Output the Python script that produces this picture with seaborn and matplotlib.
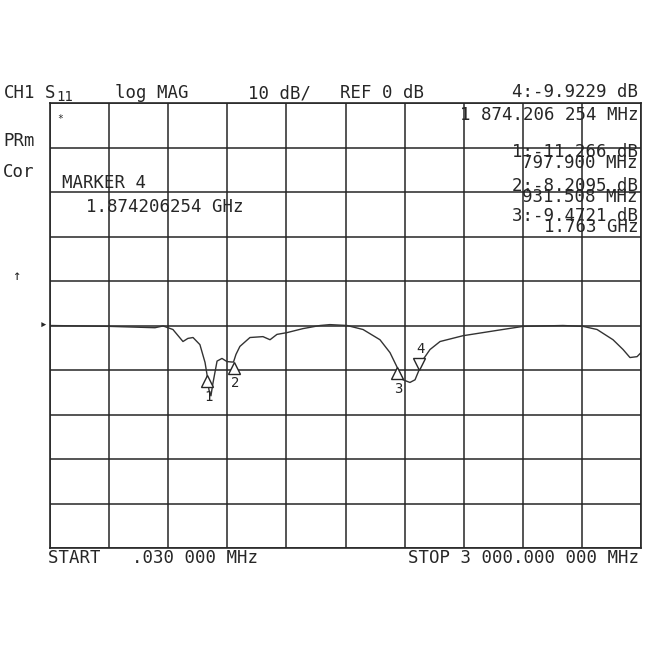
import matplotlib
matplotlib.use("Agg")
import matplotlib.pyplot as plt
import matplotlib.transforms as mtransforms
import seaborn as sns
import pandas as pd

# S11 trace (MHz, dB)
freq_mhz = [0.03, 305, 457, 533, 574, 624, 675, 700, 726, 761, 787, 797.9, 807,
            817, 827, 848, 873, 898, 921, 931.5, 944, 964, 1015, 1081, 1117,
            1152, 1203, 1284, 1371, 1421, 1508, 1589, 1675, 1726, 1763, 1792,
            1827, 1853, 1874.2, 1893, 1929, 1980, 2096, 2269, 2401, 2604, 2706,
            2777, 2858, 2909, 2944, 2980, 3000]
s11_db = [0.0, -0.2, -0.4, -0.5, -0.1, -0.9, -3.6, -2.9, -2.7, -4.3, -8.3,
          -11.27, -14.5, -15.8, -13.0, -8.0, -7.4, -8.1, -8.2, -8.21, -6.5,
          -4.7, -2.7, -2.5, -3.2, -2.0, -1.6, -0.7, 0.0, 0.2, 0.0, -0.9, -3.2,
          -6.1, -9.47, -12.2, -12.8, -12.2, -9.92, -7.7, -5.4, -3.6, -2.3,
          -1.1, -0.2, 0.0, -0.2, -0.9, -3.2, -5.4, -7.2, -7.0, -6.1]

marker_ids = ["1", "2", "3", "4"]
marker_freq = [797.9, 931.508, 1763.0, 1874.206254]
marker_db = [-11.266, -8.2095, -9.4721, -9.9229]

df = pd.DataFrame({"freq": freq_mhz, "db": s11_db})

sns.set_style("white")
plt.rcParams["font.family"] = ["DejaVu Sans Mono"]

ink = "#262626"
fig = plt.figure(figsize=(6.5, 6.5), dpi=100)
fig.patch.set_facecolor("white")
ax = fig.add_axes([50 / 650, 1 - 548 / 650, 591 / 650, 445 / 650])

sns.lineplot(data=df, x="freq", y="db", ax=ax, color="#333333", lw=1.0)

ax.set_xlim(0.03, 3000)
ax.set_ylim(-50, 50)
ax.set_xticks([0.03 + i * 300 for i in range(11)])
ax.set_yticks(range(-50, 51, 10))
ax.grid(True, color=ink, lw=1.1)
ax.tick_params(length=0, labelbottom=False, labelleft=False)
ax.set_xlabel("")
ax.set_ylabel("")
for s in ax.spines.values():
    s.set_color(ink)
    s.set_linewidth(1.2)

# markers: inactive ones drawn as open triangles under the trace, active one above
down = mtransforms.offset_copy(ax.transData, fig=fig, y=-4, units="points")
up = mtransforms.offset_copy(ax.transData, fig=fig, y=4, units="points")
for mid, f, d in zip(marker_ids, marker_freq, marker_db):
    if mid == "4":
        ax.plot([f], [d], marker="v", ms=8, mfc="white", mec=ink, mew=1.0,
                transform=up)
        ax.annotate(mid, (f, d), xytext=(1, 10), textcoords="offset points",
                    ha="center", va="bottom", fontsize=10, color=ink)
    else:
        ax.plot([f], [d], marker="^", ms=8, mfc="white", mec=ink, mew=1.0,
                transform=down)
        ax.annotate(mid, (f, d), xytext=(1, -10), textcoords="offset points",
                    ha="center", va="top", fontsize=10, color=ink)

# reference level pointer
ax.annotate("▸", xy=(-0.012, 0), xycoords=("axes fraction", "data"),
            ha="center", va="center", fontsize=9, color=ink)
ax.text(0.012, 0.975, "*", transform=ax.transAxes, fontsize=7, color=ink,
        ha="left", va="top")


def ftext(x, y, s, ha="left", size=12.5, **kw):
    fig.text(x / 650, 1 - y / 650, s, ha=ha, va="baseline", fontsize=size,
             color=ink, **kw)


# header line
ftext(4, 98, "CH1")
ftext(45, 98, "S")
ftext(56, 101, "11", size=10)
ftext(115, 98, "log MAG")
ftext(248, 98, "10 dB/")
ftext(340, 98, "REF 0 dB")
ftext(638, 97, "4:-9.9229 dB", ha="right")
ftext(638, 120, "1 874.206 254 MHz", ha="right")

# left annotations
ftext(3, 146, "PRm")
ftext(3, 177, "Cor")
ftext(62, 188, "MARKER 4")
ftext(86, 212, "1.874206254 GHz")
ftext(12, 280, "↑", size=10)

# marker table (value and frequency printed almost on top of each other)
ftext(638, 168, "1:-11.266 dB\n797.900 MHz", ha="right",
      multialignment="right", linespacing=0.5)
ftext(638, 202, "2:-8.2095 dB\n931.508 MHz", ha="right",
      multialignment="right", linespacing=0.5)
ftext(638, 232, "3:-9.4721 dB\n1.763 GHz", ha="right",
      multialignment="right", linespacing=0.5)

# sweep range
ftext(48, 563, "START   .030 000 MHz")
ftext(639, 563, "STOP 3 000.000 000 MHz", ha="right")

fig.savefig("out.png", dpi=100, facecolor="white")
